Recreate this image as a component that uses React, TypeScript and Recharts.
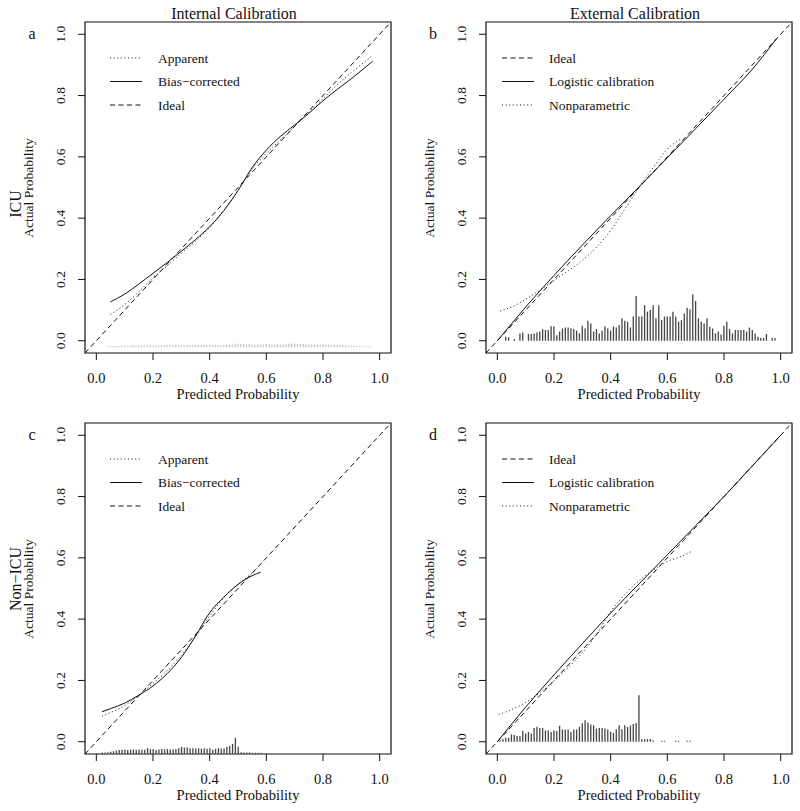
import React from "react";
import {
  ComposedChart,
  Line,
  Bar,
  XAxis,
  YAxis,
  ReferenceArea,
  Legend,
} from "recharts";

const SERIF = '"Liberation Serif", "Times New Roman", serif';
const DASH = "5 3.5";
const DOT = "1 2.6";

const axisTicks = [0, 0.2, 0.4, 0.6, 0.8, 1.0];
const axisDomain: [number, number] = [-0.04, 1.04];
const idealLine = [
  [-0.04, -0.04],
  [1.04, 1.04],
];

// a: ICU, internal calibration
const aApparent = [
  [0.05, 0.086], [0.1, 0.118], [0.15, 0.16], [0.2, 0.205], [0.25, 0.245],
  [0.3, 0.285], [0.35, 0.325], [0.4, 0.37], [0.45, 0.425], [0.5, 0.49],
  [0.55, 0.56], [0.6, 0.612], [0.65, 0.655], [0.7, 0.7], [0.75, 0.745],
  [0.8, 0.79], [0.85, 0.835], [0.9, 0.875], [0.975, 0.93],
];
const aBiasCorrected = [
  [0.05, 0.127], [0.1, 0.152], [0.15, 0.185], [0.2, 0.22], [0.25, 0.255],
  [0.3, 0.292], [0.35, 0.33], [0.4, 0.372], [0.45, 0.425], [0.5, 0.49],
  [0.55, 0.565], [0.6, 0.622], [0.65, 0.667], [0.7, 0.704], [0.75, 0.742],
  [0.8, 0.783], [0.85, 0.82], [0.9, 0.855], [0.975, 0.912],
];
const aRug = [
  [0.04, 0.003], [0.05, 0.004], [0.06, 0.004], [0.07, 0.005], [0.08, 0.004],
  [0.09, 0.005], [0.1, 0.005], [0.11, 0.004], [0.12, 0.005], [0.13, 0.006],
  [0.14, 0.005], [0.15, 0.005], [0.16, 0.006], [0.17, 0.005], [0.18, 0.006],
  [0.19, 0.006], [0.2, 0.005], [0.21, 0.006], [0.22, 0.005], [0.23, 0.006],
  [0.24, 0.006], [0.25, 0.007], [0.26, 0.006], [0.27, 0.006], [0.28, 0.007],
  [0.29, 0.006], [0.3, 0.007], [0.31, 0.006], [0.32, 0.007], [0.33, 0.007],
  [0.34, 0.006], [0.35, 0.007], [0.36, 0.007], [0.37, 0.006], [0.38, 0.007],
  [0.39, 0.007], [0.4, 0.006], [0.41, 0.007], [0.42, 0.007], [0.43, 0.007],
  [0.44, 0.006], [0.45, 0.007], [0.46, 0.008], [0.47, 0.008], [0.48, 0.009],
  [0.49, 0.01], [0.5, 0.012], [0.51, 0.011], [0.52, 0.01], [0.53, 0.009],
  [0.54, 0.01], [0.55, 0.009], [0.56, 0.008], [0.57, 0.009], [0.58, 0.01],
  [0.59, 0.009], [0.6, 0.01], [0.61, 0.009], [0.62, 0.008], [0.63, 0.009],
  [0.64, 0.01], [0.65, 0.009], [0.66, 0.009], [0.67, 0.01], [0.68, 0.011],
  [0.69, 0.012], [0.7, 0.011], [0.71, 0.01], [0.72, 0.011], [0.73, 0.01],
  [0.74, 0.009], [0.75, 0.01], [0.76, 0.009], [0.77, 0.008], [0.78, 0.009],
  [0.79, 0.008], [0.8, 0.009], [0.81, 0.008], [0.82, 0.008], [0.83, 0.007],
  [0.84, 0.008], [0.85, 0.007], [0.86, 0.007], [0.87, 0.006], [0.88, 0.006],
  [0.89, 0.005], [0.9, 0.005], [0.91, 0.005], [0.92, 0.004], [0.93, 0.004],
  [0.94, 0.004], [0.95, 0.003], [0.96, 0.003], [0.97, 0.003],
];

// b: ICU, external calibration
const bLogistic = [
  [0.0, 0.0], [0.05, 0.055], [0.1, 0.11], [0.2, 0.213], [0.3, 0.312],
  [0.4, 0.408], [0.5, 0.502], [0.6, 0.597], [0.7, 0.692], [0.8, 0.788],
  [0.9, 0.886], [0.985, 0.985],
];
const bNonparametric = [
  [0.01, 0.097], [0.05, 0.11], [0.1, 0.135], [0.15, 0.165], [0.2, 0.197],
  [0.25, 0.228], [0.3, 0.262], [0.35, 0.305], [0.4, 0.36], [0.45, 0.43],
  [0.5, 0.5], [0.55, 0.565], [0.6, 0.625], [0.65, 0.66],
];
const bSpikes = [
  [0.03, 0.013], [0.04, 0.011], [0.06, 0.006], [0.08, 0.024], [0.09, 0.027],
  [0.11, 0.022], [0.12, 0.022], [0.13, 0.024], [0.14, 0.027], [0.15, 0.03],
  [0.16, 0.038], [0.17, 0.035], [0.18, 0.035], [0.19, 0.047], [0.2, 0.047],
  [0.21, 0.018], [0.22, 0.03], [0.23, 0.04], [0.24, 0.043], [0.25, 0.043],
  [0.26, 0.04], [0.27, 0.038], [0.28, 0.033], [0.29, 0.024], [0.3, 0.049],
  [0.31, 0.04], [0.32, 0.065], [0.33, 0.056], [0.34, 0.03], [0.35, 0.038],
  [0.36, 0.024], [0.37, 0.033], [0.38, 0.047], [0.39, 0.04], [0.4, 0.033],
  [0.41, 0.047], [0.42, 0.043], [0.43, 0.051], [0.44, 0.073], [0.45, 0.065],
  [0.46, 0.062], [0.47, 0.043], [0.48, 0.079], [0.49, 0.146], [0.5, 0.079],
  [0.51, 0.079], [0.52, 0.116], [0.53, 0.095], [0.54, 0.1], [0.55, 0.116],
  [0.56, 0.073], [0.57, 0.116], [0.58, 0.068], [0.59, 0.079], [0.6, 0.079],
  [0.61, 0.079], [0.62, 0.095], [0.63, 0.079], [0.64, 0.062], [0.65, 0.067],
  [0.66, 0.089], [0.67, 0.108], [0.68, 0.103], [0.69, 0.152], [0.7, 0.13],
  [0.71, 0.073], [0.72, 0.062], [0.73, 0.056], [0.74, 0.073], [0.75, 0.046],
  [0.76, 0.04], [0.77, 0.024], [0.78, 0.03], [0.79, 0.02], [0.8, 0.049],
  [0.81, 0.062], [0.82, 0.038], [0.83, 0.024], [0.84, 0.035], [0.85, 0.035],
  [0.86, 0.035], [0.87, 0.035], [0.88, 0.03], [0.89, 0.043], [0.9, 0.035],
  [0.91, 0.024], [0.92, 0.013], [0.93, 0.009], [0.94, 0.009], [0.95, 0.022],
  [0.97, 0.009], [0.98, 0.009],
];

// c: non-ICU, internal calibration
const cApparent = [
  [0.02, 0.083], [0.05, 0.095], [0.1, 0.118], [0.15, 0.152], [0.2, 0.19],
  [0.25, 0.232], [0.3, 0.282], [0.35, 0.343], [0.4, 0.41], [0.45, 0.47],
  [0.5, 0.515], [0.55, 0.55], [0.57, 0.568],
];
const cBiasCorrected = [
  [0.02, 0.098], [0.05, 0.108], [0.1, 0.126], [0.15, 0.152], [0.2, 0.182],
  [0.25, 0.222], [0.3, 0.275], [0.35, 0.345], [0.4, 0.421], [0.45, 0.472],
  [0.5, 0.513], [0.55, 0.542], [0.58, 0.553],
];
const cSpikes = [
  [0.02, 0.004], [0.03, 0.004], [0.04, 0.005], [0.05, 0.006], [0.06, 0.008],
  [0.07, 0.01], [0.08, 0.012], [0.09, 0.013], [0.1, 0.014], [0.11, 0.012],
  [0.12, 0.013], [0.13, 0.014], [0.14, 0.013], [0.15, 0.014], [0.16, 0.013],
  [0.17, 0.013], [0.18, 0.018], [0.19, 0.015], [0.2, 0.015], [0.21, 0.012],
  [0.22, 0.014], [0.23, 0.015], [0.24, 0.014], [0.25, 0.015], [0.26, 0.014],
  [0.27, 0.014], [0.28, 0.015], [0.29, 0.018], [0.3, 0.022], [0.31, 0.02],
  [0.32, 0.021], [0.33, 0.018], [0.34, 0.018], [0.35, 0.017], [0.36, 0.018],
  [0.37, 0.016], [0.38, 0.018], [0.39, 0.016], [0.4, 0.018], [0.41, 0.013],
  [0.42, 0.016], [0.43, 0.018], [0.44, 0.017], [0.45, 0.017], [0.46, 0.023],
  [0.47, 0.025], [0.48, 0.032], [0.49, 0.052], [0.5, 0.023], [0.51, 0.005],
  [0.52, 0.004], [0.53, 0.004], [0.54, 0.004], [0.55, 0.003], [0.56, 0.003],
  [0.57, 0.003], [0.58, 0.003],
];

// d: non-ICU, external calibration
const dLogistic = [
  [0.0, 0.0], [0.1, 0.113], [0.2, 0.218], [0.3, 0.32], [0.4, 0.42],
  [0.5, 0.515], [0.6, 0.61], [0.7, 0.705], [0.8, 0.8], [0.9, 0.9], [1.0, 1.0],
];
const dNonparametric = [
  [0.005, 0.089], [0.05, 0.105], [0.1, 0.128], [0.15, 0.16], [0.2, 0.198],
  [0.25, 0.242], [0.3, 0.29], [0.35, 0.35], [0.4, 0.425], [0.45, 0.48],
  [0.5, 0.525], [0.55, 0.56], [0.6, 0.588], [0.65, 0.605], [0.685, 0.621],
];
const dSpikes = [
  [0.01, 0.005], [0.02, 0.009], [0.03, 0.013], [0.04, 0.013], [0.05, 0.024],
  [0.06, 0.022], [0.07, 0.019], [0.08, 0.019], [0.09, 0.035], [0.1, 0.027],
  [0.11, 0.032], [0.12, 0.027], [0.13, 0.045], [0.14, 0.049], [0.15, 0.045],
  [0.16, 0.045], [0.17, 0.037], [0.18, 0.037], [0.19, 0.032], [0.2, 0.037],
  [0.21, 0.035], [0.22, 0.052], [0.23, 0.04], [0.24, 0.04], [0.25, 0.04],
  [0.26, 0.032], [0.27, 0.04], [0.28, 0.04], [0.29, 0.049], [0.3, 0.06],
  [0.31, 0.07], [0.32, 0.063], [0.33, 0.056], [0.34, 0.054], [0.35, 0.043],
  [0.36, 0.045], [0.37, 0.045], [0.38, 0.043], [0.39, 0.04], [0.4, 0.032],
  [0.41, 0.029], [0.42, 0.041], [0.43, 0.054], [0.44, 0.041], [0.45, 0.054],
  [0.46, 0.048], [0.47, 0.053], [0.48, 0.058], [0.49, 0.061], [0.5, 0.152],
  [0.51, 0.008], [0.52, 0.008], [0.53, 0.009], [0.54, 0.009], [0.55, 0.005],
  [0.58, 0.003], [0.59, 0.003], [0.63, 0.003], [0.64, 0.003], [0.67, 0.003],
  [0.68, 0.003],
];

const internalLegend = [
  { name: "Apparent", dash: DOT },
  { name: "Bias\u2212corrected", dash: undefined },
  { name: "Ideal", dash: DASH },
];
const externalLegend = [
  { name: "Ideal", dash: DASH },
  { name: "Logistic calibration", dash: undefined },
  { name: "Nonparametric", dash: DOT },
];

const toPoints = (rows: number[][]) => rows.map(([x, y]) => ({ x, y }));

function XTick({ x, y, payload }: any) {
  return (
    <text x={x} y={y + 21} textAnchor="middle" fontSize={14.5} fontFamily={SERIF} fill="#111">
      {Number(payload.value).toFixed(1)}
    </text>
  );
}

function YTick({ x, y, payload }: any) {
  const bx = x - 11;
  return (
    <text
      x={bx}
      y={y}
      textAnchor="middle"
      fontSize={13.5}
      fontFamily={SERIF}
      fill="#111"
      transform={`rotate(-90, ${bx}, ${y})`}
    >
      {Number(payload.value).toFixed(1)}
    </text>
  );
}

function legendContent(items: { name: string; dash?: string }[], lineX: number, textX: number) {
  return () => (
    <svg width={320} height={120} style={{ display: "block" }}>
      {items.map((it, i) => {
        const y = 58 + i * 23.5;
        return (
          <g key={it.name}>
            <line x1={lineX} x2={lineX + 32} y1={y} y2={y} stroke="#111" strokeWidth={1} strokeDasharray={it.dash} />
            <text x={textX} y={y + 4.5} fontSize={13.5} fontFamily={SERIF} fill="#111">
              {it.name}
            </text>
          </g>
        );
      })}
    </svg>
  );
}

type Series = { name: string; rows: number[][]; dash?: string; linear?: boolean };

type PanelProps = {
  letter: string;
  title?: string;
  group?: string;
  groupY?: number;
  series: Series[];
  spikes: number[][];
  spikeBase: number;
  spikeColor: string;
  legend: { name: string; dash?: string }[];
  legendLineX: number;
  legendTextX: number;
};

function Panel(p: PanelProps) {
  const spikeData = p.spikes.map(([x, h]) => ({ x, v: [p.spikeBase, p.spikeBase + h] }));
  return (
    <ComposedChart
      width={400}
      height={405}
      data={spikeData}
      margin={{ top: 22, right: 9, bottom: 0, left: 0 }}
    >
      <XAxis
        type="number"
        dataKey="x"
        domain={axisDomain}
        allowDataOverflow
        ticks={axisTicks}
        height={52}
        axisLine={false}
        tickSize={7}
        tickLine={{ stroke: "#111" }}
        tick={<XTick />}
      />
      <YAxis
        type="number"
        domain={axisDomain}
        allowDataOverflow
        ticks={axisTicks}
        width={85}
        axisLine={false}
        tickSize={7}
        tickLine={{ stroke: "#111" }}
        tick={<YTick />}
      />
      <Bar dataKey="v" barSize={1.3} fill={p.spikeColor} isAnimationActive={false} />
      {p.series.map((s) => (
        <Line
          key={s.name}
          data={toPoints(s.rows)}
          dataKey="y"
          type={s.linear ? "linear" : "monotone"}
          stroke="#111"
          strokeWidth={1}
          strokeDasharray={s.dash}
          dot={false}
          activeDot={false}
          isAnimationActive={false}
        />
      ))}
      <ReferenceArea x1={-0.04} x2={1.04} y1={-0.04} y2={1.04} fill="none" stroke="#111" strokeWidth={1.2} />
      <Legend
        layout="vertical"
        align="center"
        verticalAlign="middle"
        wrapperStyle={{ left: 0, top: 0 }}
        content={legendContent(p.legend, p.legendLineX, p.legendTextX)}
      />
      {p.title && (
        <text x={234} y={19} textAnchor="middle" fontSize={16} fontFamily={SERIF} fill="#111">
          {p.title}
        </text>
      )}
      <text x={32} y={39} textAnchor="middle" fontSize={16} fontFamily={SERIF} fill="#111">
        {p.letter}
      </text>
      <text x={33} y={188} textAnchor="middle" fontSize={13.5} fontFamily={SERIF} fill="#111" transform="rotate(-90, 33, 188)">
        Actual Probability
      </text>
      {p.group && (
        <text x={21} y={p.groupY} textAnchor="middle" fontSize={16} fontFamily={SERIF} fill="#111" transform={`rotate(-90, 21, ${p.groupY})`}>
          {p.group}
        </text>
      )}
      <text x={238} y={399} textAnchor="middle" fontSize={14.5} fontFamily={SERIF} fill="#111">
        Predicted Probability
      </text>
    </ComposedChart>
  );
}

export default function App() {
  return (
    <div style={{ position: "absolute", left: 0, top: 0, width: 800, height: 811, background: "#fff" }}>
      <div style={{ position: "absolute", left: 0, top: 0 }}>
        <Panel
          letter="a"
          title="Internal Calibration"
          group="ICU"
          groupY={204}
          series={[
            { name: "ideal", rows: idealLine, dash: DASH, linear: true },
            { name: "apparent", rows: aApparent, dash: DOT },
            { name: "bias", rows: aBiasCorrected },
          ]}
          spikes={aRug}
          spikeBase={-0.021}
          spikeColor="#c4c4c4"
          legend={internalLegend}
          legendLineX={110}
          legendTextX={158}
        />
      </div>
      <div style={{ position: "absolute", left: 401, top: 0 }}>
        <Panel
          letter="b"
          title="External Calibration"
          series={[
            { name: "ideal", rows: idealLine, dash: DASH, linear: true },
            { name: "logistic", rows: bLogistic },
            { name: "nonpar", rows: bNonparametric, dash: DOT },
          ]}
          spikes={bSpikes}
          spikeBase={0}
          spikeColor="#444"
          legend={externalLegend}
          legendLineX={101}
          legendTextX={148}
        />
      </div>
      <div style={{ position: "absolute", left: 0, top: 401 }}>
        <Panel
          letter="c"
          group={"Non\u2212ICU"}
          groupY={178}
          series={[
            { name: "ideal", rows: idealLine, dash: DASH, linear: true },
            { name: "apparent", rows: cApparent, dash: DOT },
            { name: "bias", rows: cBiasCorrected },
          ]}
          spikes={cSpikes}
          spikeBase={-0.039}
          spikeColor="#444"
          legend={internalLegend}
          legendLineX={110}
          legendTextX={158}
        />
      </div>
      <div style={{ position: "absolute", left: 401, top: 401 }}>
        <Panel
          letter="d"
          series={[
            { name: "ideal", rows: idealLine, dash: DASH, linear: true },
            { name: "logistic", rows: dLogistic },
            { name: "nonpar", rows: dNonparametric, dash: DOT },
          ]}
          spikes={dSpikes}
          spikeBase={0}
          spikeColor="#444"
          legend={externalLegend}
          legendLineX={101}
          legendTextX={148}
        />
      </div>
    </div>
  );
}
